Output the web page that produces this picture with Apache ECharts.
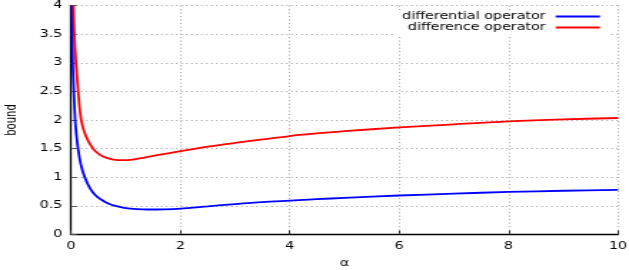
<!DOCTYPE html>
<html>
<head>
<meta charset="utf-8">
<script src="https://cdn.jsdelivr.net/npm/echarts@6/dist/echarts.min.js"></script>
<style>
html,body{margin:0;padding:0;background:#fff;overflow:hidden;}
#c{width:440px;height:270px;transform:scaleX(1.4295);transform-origin:0 0;}
</style>
</head>
<body>
<div id="c"></div>
<script>
// Data
const seriesNames = ['differential operator', 'difference operator'];

const diffAlpha = [0.018,0.024,0.03,0.05,0.075,0.1,0.128,0.18,0.25,0.35,0.45,0.55,0.65,0.75,0.85,1.0,1.2,1.4,1.7,2.0,2.5,3.0,3.5,4.0,4.5,5.0,6.0,7.0,8.0,9.0,10.0];
const diffBound = [4.0,3.5,3.0,2.5,2.0,1.72,1.5,1.22,1.0,0.8,0.68,0.61,0.555,0.515,0.49,0.46,0.443,0.435,0.438,0.45,0.49,0.53,0.565,0.59,0.615,0.64,0.68,0.713,0.742,0.763,0.78];

const dfAlpha = [0.043,0.06,0.09,0.13,0.185,0.27,0.4,0.53,0.68,0.85,1.04,1.32,1.6,2.0,2.5,3.0,3.5,4.0,4.5,5.0,6.0,7.0,8.0,9.0,10.0];
const dfBound = [4.0,3.5,3.0,2.5,2.0,1.72,1.5,1.39,1.33,1.30,1.30,1.34,1.39,1.455,1.535,1.60,1.66,1.72,1.765,1.805,1.87,1.925,1.975,2.01,2.035];

const xName = 'α';
const yName = 'bound';

const pair = (xs, ys) => xs.map((x, i) => [x, ys[i]]);
const FONT = 'DejaVu Sans';

const chart = echarts.init(document.getElementById('c'), null, {renderer: 'canvas'});
const legendCommon = {
  right: 13.3, orient: 'horizontal', align: 'right', icon: 'rect',
  itemWidth: 31, itemHeight: 2, itemGap: 0,
  backgroundColor: '#fff',
  textStyle: {fontFamily: FONT, fontSize: 10, color: '#000', lineHeight: 11, padding: [0, 2, 0, 0]}
};
chart.setOption({
  animation: false,
  backgroundColor: '#fff',
  grid: {left: 49.7, right: 7.7, top: 5.6, bottom: 35.6, containLabel: false, outerBoundsMode: 'none'},
  legend: [
    Object.assign({}, legendCommon, {data: [seriesNames[0]], top: 10, padding: [1, 7, 0, 8]}),
    Object.assign({}, legendCommon, {data: [seriesNames[1]], top: 22, padding: [0, 7, 3, 8]})
  ],
  xAxis: {
    type: 'value', min: 0, max: 10, interval: 2,
    name: xName, nameLocation: 'middle', nameGap: 24,
    nameTextStyle: {fontFamily: FONT, fontSize: 10, color: '#000'},
    axisLine: {lineStyle: {color: '#000', width: 1.3}},
    axisTick: {inside: true, length: 4, lineStyle: {color: '#333'}},
    axisLabel: {fontFamily: FONT, fontSize: 10, color: '#000', margin: 7},
    splitLine: {show: true, lineStyle: {color: '#a0a0a0', width: 1, type: [1, 2.5]}}
  },
  yAxis: {
    type: 'value', min: 0, max: 4, interval: 0.5,
    name: yName, nameLocation: 'middle', nameGap: 36, nameRotate: 90,
    nameTextStyle: {fontFamily: FONT, fontSize: 10, color: '#000'},
    axisLine: {show: true, lineStyle: {color: '#000', width: 1.3}},
    axisTick: {show: true, inside: true, length: 4, lineStyle: {color: '#555'}},
    axisLabel: {fontFamily: FONT, fontSize: 10, color: '#000', margin: 6},
    splitLine: {show: true, lineStyle: {color: '#a0a0a0', width: 1, type: [1, 2.5]}}
  },
  series: [
    {name: seriesNames[0], type: 'line', data: pair(diffAlpha, diffBound), showSymbol: false, smooth: 0.3,
     lineStyle: {color: '#0000ff', width: 1.8}, itemStyle: {color: '#0000ff'}},
    {name: seriesNames[1], type: 'line', data: pair(dfAlpha, dfBound), showSymbol: false, smooth: 0.3,
     lineStyle: {color: '#ff0000', width: 1.8}, itemStyle: {color: '#ff0000'}}
  ]
});
</script>
</body>
</html>
